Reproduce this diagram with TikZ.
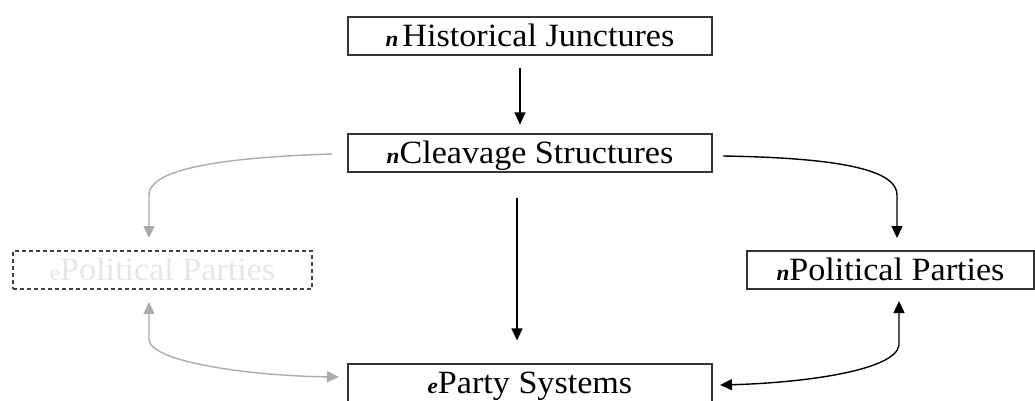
\documentclass[tikz,border=0pt]{standalone}
\usepackage{fontspec}
\setmainfont[FakeStretch=1.05]{Liberation Serif}
\usetikzlibrary{arrows.meta}
\definecolor{lightgreytext}{HTML}{E6E6E6}
\definecolor{curvegrey}{HTML}{ABABAB}
\definecolor{dashgrey}{HTML}{404040}
\newcommand{\subn}{{\fontsize{22}{22}\selectfont\bfseries\itshape n}}
\newcommand{\sube}{{\fontsize{22}{22}\selectfont\bfseries\itshape e}}
\newcommand{\subeplain}{{\fontsize{22}{22}\selectfont e}}
\begin{document}
\begin{tikzpicture}[x=1pt,y=-1pt,
  box/.style={draw=black!80, line width=1.2pt, minimum height=38pt, inner sep=0pt,
    text height=21pt, text depth=0pt, font=\fontsize{32.5}{35}\selectfont},
  arr/.style={line width=1.4pt, -{Triangle[length=12pt,width=11pt]}},
  darr/.style={line width=1.4pt, {Triangle[length=12pt,width=11pt]}-{Triangle[length=12pt,width=11pt]}}
]
\useasboundingbox (0,0) rectangle (1035,401);
\node[box, minimum width=364pt] (hj) at (530,36) {\subn\hspace{4pt}Historical Junctures};
\node[box, minimum width=364pt] (cs) at (530,153) {\subn Cleavage Structures};
\node[box, minimum width=364pt] (ps) at (530,383) {\sube Party Systems};
\node[box, draw=dashgrey, dashed, dash pattern=on 4pt off 3pt, text=lightgreytext, minimum width=299pt] (ep) at (162.5,270) {\subeplain Political Parties};
\node[box, minimum width=287pt] (np) at (890.5,270) {\subn Political Parties};

\draw[arr] ([xshift=-10pt,yshift=-12pt]hj.south) -- ([xshift=-10pt,yshift=9pt]cs.north);
\draw[arr] ([xshift=-13pt,yshift=-25pt]cs.south) -- ([xshift=-13pt,yshift=23pt]ps.north);

\coordinate (lcs) at (332,154);
\coordinate (lep) at (149,238);
\draw[arr, draw=curvegrey, color=curvegrey] (lcs) .. controls (205,158) and (149,172) .. (149,195) -- (lep);

\coordinate (rcs) at (723,156);
\coordinate (rnp) at (897,238);
\draw[arr] (rcs) .. controls (850,158) and (897,172) .. (897,195) -- (rnp);

\coordinate (lep2) at (149,302);
\coordinate (lps) at (339,377);
\draw[darr, draw=curvegrey, color=curvegrey] (lep2) -- (149,340) .. controls (152,363) and (255,376) .. (lps);

\coordinate (rnp2) at (899,301);
\coordinate (rps) at (720,385);
\draw[darr] (rnp2) -- (899,345) .. controls (896,371) and (800,383) .. (rps);
\end{tikzpicture}
\end{document}
